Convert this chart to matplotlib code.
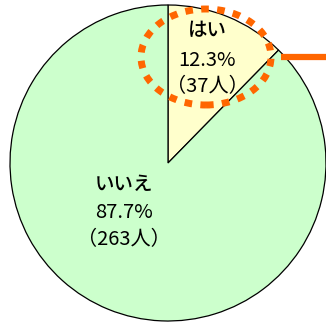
import matplotlib
matplotlib.use("Agg")
import matplotlib.pyplot as plt
from matplotlib.patches import Ellipse

plt.rcParams['font.family'] = ['Noto Sans CJK JP', 'DejaVu Sans']
narrow = ['Liberation Sans Narrow', 'Noto Sans CJK JP', 'DejaVu Sans']

labels = ['はい', 'いいえ']
counts = [37, 263]
percents = ['12.3%', '87.7%']
colors = ['#FFFFCC', '#CCFFCC']

H = 324
fig = plt.figure(figsize=(3.26, 3.24), dpi=100)
ax = fig.add_axes([0, 0, 1, 1])

cx, cy, r = 168, H - 163, 158
ax.pie(counts, colors=colors, startangle=90, counterclock=False,
       center=(cx, cy), radius=r, frame=True,
       wedgeprops=dict(edgecolor='black', linewidth=0.9))
ax.set_xlim(0, 326)
ax.set_ylim(0, H)
ax.set_aspect('equal')
ax.axis('off')

# label positions (pixel coords of the image)
pos = [(207, 31), (124, 184)]
for (x, y), lab, pc, n in zip(pos, labels, percents, counts):
    ax.text(x, H - y, lab, ha='center', va='center', fontsize=14,
            fontweight='medium')
    ax.text(x, H - y - 29, pc, ha='center', va='center', fontsize=14.5,
            family=narrow)
    ax.text(x, H - y - 56, '（%d人）' % n, ha='center', va='center',
            fontsize=14.5, family=narrow)

# orange highlight
ell = Ellipse((206, H - 57), 130, 96, fill=False, edgecolor='#FF6600',
              linewidth=5, linestyle=(0, (1.1, 1.2)))
ax.add_patch(ell)
ax.plot([281, 326], [H - 57, H - 57], color='#FF6600', linewidth=4.5,
        solid_capstyle='butt')

fig.savefig('out.png', dpi=100)
